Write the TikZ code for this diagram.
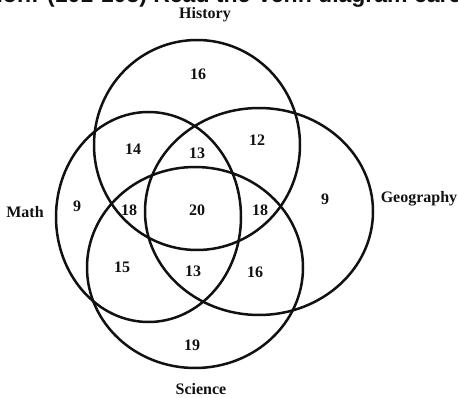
\documentclass[tikz,border=0pt]{standalone}
\usepackage{fontspec}
\setmainfont{Liberation Serif}
\newfontfamily\headfont{Liberation Sans}
\usepackage{xcolor}
\definecolor{cInk}{HTML}{111111}
\usepackage{tikz}
\usetikzlibrary{positioning}
\tikzset{
  set-ring/.style={draw=cInk,line width=2.5pt},
  set-name/.style={text=cInk,font=\fontsize{16}{16}\selectfont\bfseries,inner sep=0pt},
  set-count/.style={text=cInk,font=\fontsize{16}{16}\selectfont\bfseries,inner sep=0pt},
  head-text/.style={text=cInk,font=\headfont\fontsize{23}{23}\selectfont\bfseries,inner sep=0pt},
}

\begin{document}
\begin{tikzpicture}[x=1pt,y=-1pt]
  \useasboundingbox (0,0) rectangle (458,398);
  % cut-off heading
  \begin{scope}
    \clip (0,0) rectangle (458,398);
    \node[head-text,anchor=base] (head) at (229,3) {ion: (101-105) Read the Venn diagram care};
  \end{scope}
  % the four sets
  \draw[set-ring] (197,145)   ellipse [x radius=103pt,y radius=105pt];  % History
  \draw[set-ring] (148.5,217) ellipse [x radius=92.5pt,y radius=105pt]; % Math
  \draw[set-ring] (259,211.5) ellipse [x radius=114pt,y radius=103.5pt];% Geography
  \draw[set-ring] (195,267.5) ellipse [x radius=108pt,y radius=100.5pt];% Science
  % set names
  \node[set-name] (history) at (205,15)  {History};
  \node[set-name] (math)    at (25,212)  {Math};
  \node[set-name] (geo)     at (419,199) {Geography};
  \node[set-name] (science) at (201,389) {Science};
  % region counts
  \node[set-count] (h-only)   at (198,74)  {16};
  \node[set-count] (mh)       at (133,149) {14};
  \node[set-count] (mhg)      at (197,153) {13};
  \node[set-count] (hg)       at (257,140) {12};
  \node[set-count] (m-only)   at (77,206)  {9};
  \node[set-count] (mhs)      at (129,210) {18};
  \node[set-count] (all)      at (197,210) {20};
  \node[set-count] (hgs)      at (260,210) {18};
  \node[set-count] (g-only)   at (325,199) {9};
  \node[set-count] (ms)       at (122,267) {15};
  \node[set-count] (mgs)      at (193,271) {13};
  \node[set-count] (gs)       at (255,272) {16};
  \node[set-count] (s-only)   at (192,345) {19};
\end{tikzpicture}
\end{document}
